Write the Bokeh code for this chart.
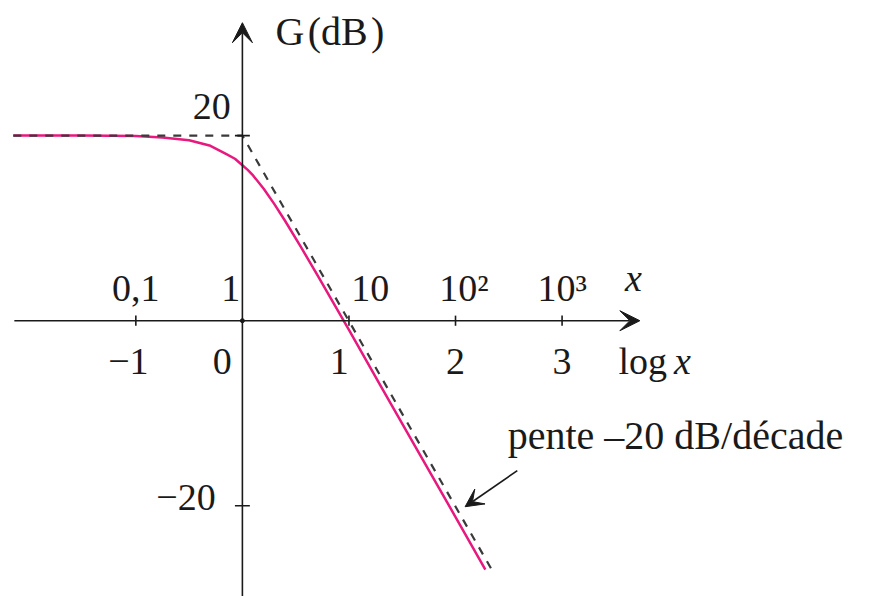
from bokeh.plotting import figure
from bokeh.models import Arrow, VeeHead, ColumnDataSource
from bokeh.core.properties import value
from bokeh.embed import file_html
from bokeh.resources import INLINE

# Gain curve of a first-order low-pass (log x in decades, G in dB)
log_x = [-2.15, -1.5, -1.0, -0.75, -0.5, -0.3, -0.15, -0.07, 0.0, 0.05, 0.1,
         0.2, 0.3, 0.4, 0.55, 0.7, 0.85, 1.0, 1.3, 1.6, 1.95, 2.28]
gain_db = [20.0, 20.0, 19.95, 19.8, 19.5, 18.9, 18.0, 17.5, 16.8, 16.3, 15.7,
           14.25, 12.6, 10.8, 7.95, 5.0, 2.0, -1.0, -7.1, -13.15, -20.2, -26.9]

# Asymptotic (straight-line) approximation
asym_log_x = [-2.15, 0.0, 2.36]
asym_db = [20.0, 20.0, -27.3]

# Axis ticks and labels
decade_ticks = [-1, 1, 2, 3]
gain_ticks = [20, -20]
gain_labels = ["20", "\u221220"]
x_labels = ["0,1", "1", "10", "10\u00b2", "10\u00b3"]
log_labels = ["\u22121", "0", "1", "2", "3"]
log_positions = [-1, 0, 1, 2, 3]

SERIF = value("Liberation Serif")
FS = "38px"
INK = "#1a1a1a"
PINK = "#e8187e"

p = figure(width=877, height=596, x_range=(-2.27, 5.96), y_range=(-29.8, 34.6),
           output_backend="svg", toolbar_location=None, min_border=0,
           background_fill_color="white", border_fill_color="white")
p.axis.visible = False
p.grid.visible = False
p.outline_line_color = None

# gain curve
p.line(log_x, gain_db, line_color=PINK, line_width=2.5, line_join="round")
# asymptotes, drawn over the curve
p.line(asym_log_x, asym_db, line_color="#3a3a3a", line_width=2.2, line_dash="8 8")

# axes with arrow heads
p.add_layout(Arrow(x_start=-2.14, y_start=0, x_end=3.73, y_end=0, line_color=INK,
                   line_width=1.6, end=VeeHead(size=20, fill_color=INK, line_color=INK)))
p.add_layout(Arrow(x_start=0, y_start=-31, x_end=0, y_end=32.2, line_color=INK,
                   line_width=1.6, end=VeeHead(size=20, fill_color=INK, line_color=INK)))

# tick marks
tick_half_db = 0.55
p.segment(x0=decade_ticks, y0=[-tick_half_db] * len(decade_ticks),
          x1=decade_ticks, y1=[tick_half_db] * len(decade_ticks),
          line_color=INK, line_width=1.6)
tick_half_dec = 0.07
p.segment(x0=[-tick_half_dec] * len(gain_ticks), y0=gain_ticks,
          x1=[tick_half_dec] * len(gain_ticks), y1=gain_ticks,
          line_color=INK, line_width=1.6)
p.scatter([0], [0], size=4, color=INK)

# labels above the horizontal axis (x values)
top_x = [v + d for v, d in zip([-1, 0, 1, 2, 3], [0.0, -0.11, 0.2, 0.08, 0.0])]
top_src = ColumnDataSource(dict(x=top_x, y=[3.5] * 5, t=x_labels))
p.text(x="x", y="y", text="t", source=top_src, text_font=SERIF, text_font_size=FS,
       text_align="center", text_baseline="middle", text_color=INK)
p.text(x=[3.67], y=[4.6], text=["x"], text_font=SERIF, text_font_size=FS,
       text_font_style="italic", text_align="center", text_baseline="middle",
       text_color=INK)

# labels below the horizontal axis (log x)
low_x = [v + d for v, d in zip(log_positions, [-0.07, -0.19, -0.09, 0.0, 0.0])]
low_src = ColumnDataSource(dict(x=low_x, y=[-4.4] * 5, t=log_labels))
p.text(x="x", y="y", text="t", source=low_src, text_font=SERIF, text_font_size=FS,
       text_align="center", text_baseline="middle", text_color=INK)
p.text(x=[3.53], y=[-4.4], text=["log"], text_font=SERIF, text_font_size=FS,
       text_align="left", text_baseline="middle", text_color=INK)
p.text(x=[4.05], y=[-4.4], text=["x"], text_font=SERIF, text_font_size=FS,
       text_font_style="italic", text_align="left", text_baseline="middle",
       text_color=INK)

# gain labels
p.text(x=[-0.11], y=[23.1], text=[gain_labels[0]], text_font=SERIF, text_font_size=FS,
       text_align="right", text_baseline="middle", text_color=INK)
p.text(x=[-0.25], y=[-19.1], text=[gain_labels[1]], text_font=SERIF, text_font_size=FS,
       text_align="right", text_baseline="middle", text_color=INK)

# vertical axis title
p.text(x=[0.31], y=[31.2], text=["G\u200a(dB\u200a)"], text_font=SERIF,
       text_font_size="40px", text_align="left", text_baseline="middle",
       text_color=INK)

# slope annotation
p.text(x=[2.49], y=[-12.4], text=["pente \u201320 dB/d\u00e9cade"], text_font=SERIF,
       text_font_size="40px", text_align="left", text_baseline="middle",
       text_color=INK)
p.add_layout(Arrow(x_start=2.58, y_start=-16.2, x_end=2.09, y_end=-20.1, line_color=INK,
                   line_width=1.6, end=VeeHead(size=18, fill_color=INK, line_color=INK)))

open("out.html", "w").write(file_html(p, INLINE))
